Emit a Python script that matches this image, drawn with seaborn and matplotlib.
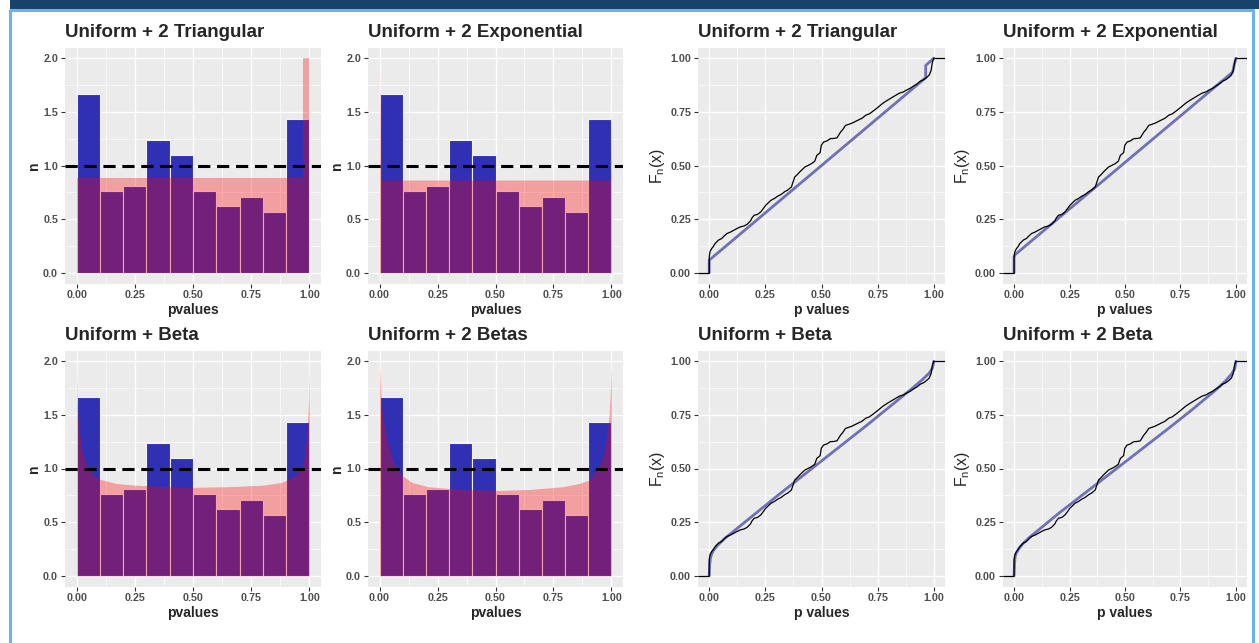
import matplotlib
matplotlib.use("Agg")
import matplotlib.pyplot as plt
import seaborn as sns
import pandas as pd
from matplotlib.lines import Line2D
from matplotlib.patches import Rectangle

# ---------------- data ----------------
# observed p-value histogram (density per bin of width 0.1)
bin_edges = [0.0, 0.1, 0.2, 0.3, 0.4, 0.5, 0.6, 0.7, 0.8, 0.9, 1.0]
bin_centers = [0.05, 0.15, 0.25, 0.35, 0.45, 0.55, 0.65, 0.75, 0.85, 0.95]
bin_density = [1.67, 0.76, 0.81, 1.24, 1.10, 0.76, 0.62, 0.71, 0.57, 1.43]

# fitted mixture densities
tri_x = [0.0, 0.973, 0.973, 1.0]
tri_y = [0.88, 0.88, 2.0, 2.0]

exp_x = [0.0, 0.004, 0.996, 1.0]
exp_y = [2.0, 0.865, 0.865, 1.58]

beta_x = [0.0, 0.003, 0.008, 0.019, 0.037, 0.047, 0.07, 0.1, 0.17, 0.25, 0.4, 0.5,
          0.65, 0.8, 0.88, 0.93, 0.967, 0.98, 0.99, 0.997, 1.0]
beta_y = [2.0, 1.6, 1.42, 1.2, 1.05, 1.0, 0.94, 0.9, 0.86, 0.845, 0.83, 0.825,
          0.83, 0.845, 0.87, 0.92, 1.0, 1.12, 1.35, 1.65, 2.0]

betas_x = [0.0, 0.004, 0.01, 0.02, 0.033, 0.055, 0.07, 0.1, 0.14, 0.21, 0.35, 0.5,
           0.65, 0.79, 0.86, 0.9, 0.944, 0.966, 0.98, 0.99, 0.996, 1.0]
betas_y = [2.0, 1.75, 1.55, 1.4, 1.25, 1.08, 1.0, 0.93, 0.87, 0.83, 0.805, 0.795,
           0.805, 0.83, 0.86, 0.89, 1.0, 1.12, 1.3, 1.5, 1.75, 2.0]

# empirical CDF of the observed p-values
ecdf_p = [0.0, 0.0, 0.004, 0.011, 0.018, 0.026, 0.041, 0.056, 0.065, 0.079, 0.095,
          0.109, 0.125, 0.139, 0.155, 0.169, 0.184, 0.19, 0.2, 0.215, 0.23, 0.24,
          0.252, 0.262, 0.275, 0.29, 0.305, 0.32, 0.335, 0.35, 0.366, 0.381, 0.39,
          0.403, 0.415, 0.426, 0.44, 0.456, 0.47, 0.479, 0.494, 0.499, 0.509, 0.525,
          0.539, 0.555, 0.569, 0.585, 0.595, 0.607, 0.622, 0.637, 0.66, 0.68, 0.698,
          0.712, 0.728, 0.75, 0.773, 0.795, 0.819, 0.835, 0.849, 0.865, 0.879, 0.895,
          0.909, 0.925, 0.94, 0.955, 0.97, 0.98, 0.988, 0.994, 1.0]
ecdf_F = [0.0, 0.075, 0.1, 0.113, 0.122, 0.136, 0.152, 0.16, 0.17, 0.183, 0.19,
          0.198, 0.207, 0.214, 0.218, 0.226, 0.242, 0.255, 0.268, 0.272, 0.284, 0.298,
          0.315, 0.325, 0.338, 0.346, 0.357, 0.365, 0.377, 0.386, 0.4, 0.447, 0.455,
          0.47, 0.482, 0.493, 0.5, 0.509, 0.52, 0.547, 0.56, 0.594, 0.609, 0.615,
          0.625, 0.626, 0.629, 0.656, 0.668, 0.687, 0.692, 0.698, 0.71, 0.72, 0.735,
          0.74, 0.752, 0.77, 0.79, 0.805, 0.82, 0.83, 0.838, 0.843, 0.852, 0.86,
          0.87, 0.88, 0.893, 0.9, 0.912, 0.922, 0.943, 0.981, 1.0]

# fitted mixture CDFs
tri_cdf_p = [0.0, 0.0, 0.964, 0.964, 1.0]
tri_cdf_F = [0.0, 0.059, 0.909, 0.966, 1.0]

exp_cdf_p = [0.0, 0.0, 0.005, 0.985, 1.0]
exp_cdf_F = [0.0, 0.075, 0.085, 0.935, 1.0]

beta_cdf_p = [0.0, 0.002, 0.005, 0.01, 0.02, 0.04, 0.07, 0.1, 0.2, 0.3, 0.5, 0.7,
              0.8, 0.9, 0.95, 0.98, 0.995, 1.0]
beta_cdf_F = [0.0, 0.05, 0.08, 0.1, 0.12, 0.145, 0.175, 0.2, 0.285, 0.37, 0.535, 0.7,
              0.785, 0.87, 0.915, 0.945, 0.97, 1.0]

betas_cdf_p = [0.0, 0.002, 0.005, 0.01, 0.02, 0.04, 0.07, 0.1, 0.2, 0.3, 0.5, 0.7,
               0.8, 0.9, 0.95, 0.98, 0.995, 1.0]
betas_cdf_F = [0.0, 0.06, 0.09, 0.105, 0.125, 0.15, 0.18, 0.205, 0.29, 0.37, 0.53, 0.69,
               0.772, 0.858, 0.905, 0.94, 0.965, 1.0]

hist_titles = ["Uniform + 2 Triangular", "Uniform + 2 Exponential",
               "Uniform + Beta", "Uniform + 2 Betas"]
cdf_titles = ["Uniform + 2 Triangular", "Uniform + 2 Exponential",
              "Uniform + Beta", "Uniform + 2 Beta"]
ticks_x = [0.0, 0.25, 0.5, 0.75, 1.0]
ticklabels_x = ["0.00", "0.25", "0.50", "0.75", "1.00"]
hist_ticks_y = [0.0, 0.5, 1.0, 1.5, 2.0]
hist_ticklabels_y = ["0.0", "0.5", "1.0", "1.5", "2.0"]
cdf_ticks_y = [0.0, 0.25, 0.5, 0.75, 1.0]
cdf_ticklabels_y = ["0.00", "0.25", "0.50", "0.75", "1.00"]

# ---------------- style ----------------
sns.set_theme(style="darkgrid", rc={
    "axes.facecolor": "#EBEBEB",
    "grid.color": "white",
    "axes.edgecolor": "none",
    "xtick.color": "#333333",
    "ytick.color": "#333333",
})
plt.rcParams["font.family"] = ["Liberation Sans", "DejaVu Sans"]
plt.rcParams["mathtext.fontset"] = "custom"
plt.rcParams["mathtext.rm"] = "Liberation Sans"
plt.rcParams["mathtext.it"] = "Liberation Sans"

W, H = 1259, 643
fig = plt.figure(figsize=(W / 100, H / 100), dpi=100)
fig.patch.set_facecolor("white")

# page frame: navy header band and light-blue border
fig.add_artist(Rectangle((10 / W, 1 - 8.5 / H), 1 - 10 / W, 8.5 / H,
                         transform=fig.transFigure, facecolor="#17436a",
                         edgecolor="none"))
frame_kw = dict(transform=fig.transFigure, color="#6db3ea", linewidth=2.2,
                solid_capstyle="butt")
fig.add_artist(Line2D([10.5 / W, 10.5 / W], [0, 1 - 8.5 / H], **frame_kw))
fig.add_artist(Line2D([1252.5 / W, 1252.5 / W], [0, 1 - 8.5 / H], **frame_kw))
fig.add_artist(Line2D([9.5 / W, 1253.5 / W], [1 - 9.8 / H, 1 - 9.8 / H], **frame_kw))


def make_axes(l, t, r, b):
    return fig.add_axes([l / W, 1 - b / H, (r - l) / W, (b - t) / H])


def style_axes(ax, title, xlabel, ylabel, yticks, yticklabels, ylim, minor_y,
               ylabel_kw):
    ax.set_xlim(-0.05, 1.05)
    ax.set_ylim(*ylim)
    ax.set_xticks(ticks_x)
    ax.set_xticklabels(ticklabels_x)
    ax.set_yticks(yticks)
    ax.set_yticklabels(yticklabels)
    ax.set_xticks([0.125, 0.375, 0.625, 0.875], minor=True)
    ax.set_yticks(minor_y, minor=True)
    ax.grid(which="major", color="white", linewidth=1.0)
    ax.grid(which="minor", color="white", linewidth=0.5)
    ax.set_axisbelow(True)
    ax.tick_params(which="major", length=3, width=0.8, pad=2,
                   labelsize=7.7, labelcolor="#4D4D4D", bottom=True, left=True)
    ax.tick_params(which="minor", length=0)
    for lab in ax.get_xticklabels() + ax.get_yticklabels():
        lab.set_fontweight("bold")
    for s in ax.spines.values():
        s.set_visible(False)
    ax.set_title(title, loc="left", fontsize=13.5, fontweight="bold", pad=7.5)
    ax.set_xlabel(xlabel, fontsize=10, fontweight="bold", labelpad=2)
    ax.set_ylabel(ylabel, **ylabel_kw)


hist_pos = [(65, 47.5, 321, 283.5), (368, 47.5, 623, 283.5),
            (65, 350.5, 321, 586.5), (368, 350.5, 623, 586.5)]
cdf_pos = [(698, 47.5, 945, 283.5), (1003, 47.5, 1247, 283.5),
           (698, 350.5, 945, 586.5), (1003, 350.5, 1247, 586.5)]

dens_curves = [(tri_x, tri_y), (exp_x, exp_y), (beta_x, beta_y), (betas_x, betas_y)]
cdf_curves = [(tri_cdf_p, tri_cdf_F), (exp_cdf_p, exp_cdf_F),
              (beta_cdf_p, beta_cdf_F), (betas_cdf_p, betas_cdf_F)]

hist_df = pd.DataFrame({"pvalues": bin_centers, "density": bin_density})
ecdf_df = pd.DataFrame({"p": ecdf_p, "F": ecdf_F})

# histogram panels with fitted mixture density
for pos, title, (dx, dy) in zip(hist_pos, hist_titles, dens_curves):
    ax = make_axes(*pos)
    sns.histplot(data=hist_df, x="pvalues", weights="density", bins=bin_edges,
                 color="#3030b4", alpha=1.0, edgecolor="#f4f0f8", linewidth=0.8,
                 ax=ax, zorder=2)
    ax.fill_between(dx, 0, dy, color="red", alpha=0.32, linewidth=0, zorder=3)
    ax.axhline(1.0, color="black", linewidth=2.2, dashes=(4, 2.2), zorder=4)
    style_axes(ax, title, "pvalues", "n", hist_ticks_y, hist_ticklabels_y,
               (-0.1, 2.1), [0.25, 0.75, 1.25, 1.75],
               dict(fontsize=10, fontweight="bold", labelpad=1.5))

# empirical vs fitted CDF panels
for pos, title, (cx, cy) in zip(cdf_pos, cdf_titles, cdf_curves):
    ax = make_axes(*pos)
    cdf_df = pd.DataFrame({"p": cx, "F": cy})
    sns.lineplot(data=cdf_df, x="p", y="F", estimator=None, sort=False,
                 color="#7070b6", linewidth=2.0, ax=ax, zorder=3)
    sns.lineplot(data=ecdf_df, x="p", y="F", estimator=None, sort=False,
                 color="black", linewidth=0.9, ax=ax, zorder=4)
    ax.hlines([ecdf_F[0]], -0.05, ecdf_p[0], color="black", linewidth=0.9, zorder=4)
    ax.hlines([ecdf_F[-1]], ecdf_p[-1], 1.05, color="black", linewidth=0.9, zorder=4)
    style_axes(ax, title, "p values", r"$\mathrm{F_n(x)}$", cdf_ticks_y,
               cdf_ticklabels_y, (-0.05, 1.05), [0.125, 0.375, 0.625, 0.875],
               dict(fontsize=11.5, labelpad=2.5))

fig.savefig("out.png", dpi=100, facecolor="white")
